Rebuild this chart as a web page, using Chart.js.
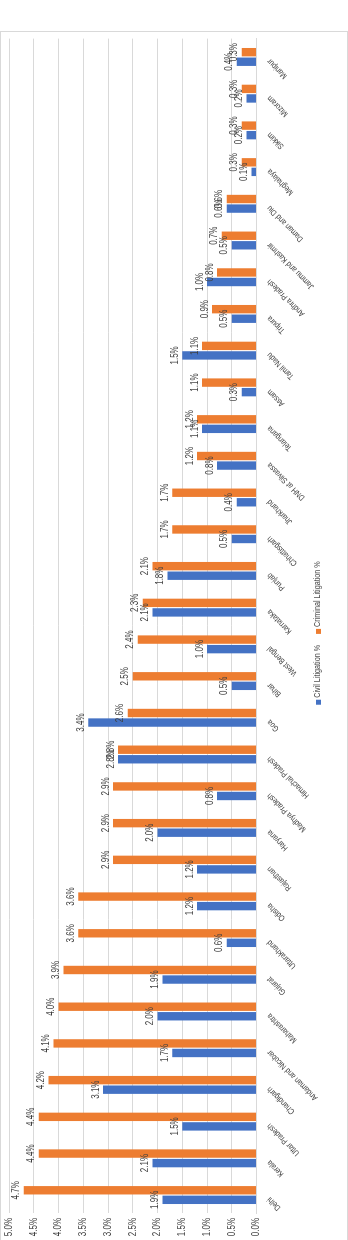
<!DOCTYPE html>
<html>
<head>
<meta charset="utf-8">
<script src="https://cdn.jsdelivr.net/npm/chart.js@4"></script>
<style>
    html, body { margin: 0; padding: 0; background: #fff; overflow: hidden; }
    body { width: 348px; height: 1240px; position: relative; }
    /* chart is laid out landscape, then turned a quarter left */
    #wrap {
        position: absolute; left: 0; top: 1241px;
        width: 1210px; height: 348px;
        box-sizing: border-box; border: 1px solid #d9d9d9;
        transform-origin: 0 0; transform: rotate(-90deg);
        background: #fff;
    }
    #wrap canvas { display: block; }
</style>
</head>
<body>
<div id="wrap"><canvas id="chart-litigation" width="1208" height="346"></canvas></div>
<script>
const states = ['Delhi', 'Kerala', 'Uttar Pradesh', 'Chandigarh', 'Andaman and Nicobar', 'Maharashtra',
    'Gujarat', 'Uttarakhand', 'Odisha', 'Rajasthan', 'Haryana', 'Madhya Pradesh', 'Himachal Pradesh',
    'Goa', 'Bihar', 'West Bengal', 'Karnataka', 'Punjab', 'Chhattisgarh', 'Jharkhand', 'DNH at Silvassa',
    'Telangana', 'Assam', 'Tamil Nadu', 'Tripura', 'Andhra Pradesh', 'Jammu and Kashmir', 'Daman and Diu',
    'Meghalaya', 'Sikkim', 'Mizoram', 'Manipur'];
const civilPct = [1.9, 2.1, 1.5, 3.1, 1.7, 2.0, 1.9, 0.6, 1.2, 1.2, 2.0, 0.8, 2.8, 3.4, 0.5, 1.0,
    2.1, 1.8, 0.5, 0.4, 0.8, 1.1, 0.3, 1.5, 0.5, 1.0, 0.5, 0.6, 0.1, 0.2, 0.2, 0.4];
const criminalPct = [4.7, 4.4, 4.4, 4.2, 4.1, 4.0, 3.9, 3.6, 3.6, 2.9, 2.9, 2.9, 2.8, 2.6, 2.5, 2.4,
    2.3, 2.1, 1.7, 1.7, 1.2, 1.2, 1.1, 1.1, 0.9, 0.8, 0.7, 0.6, 0.3, 0.3, 0.3, 0.3];
const pctTicks = [0, 0.5, 1, 1.5, 2, 2.5, 3, 3.5, 4, 4.5, 5];

const FONT = '"Liberation Sans", Arial, sans-serif';
const NARROW = 0.8;   // squeeze glyphs sideways, no condensed face installed
const INK = '#404040';

function narrowText(ctx, text, x, y, angle, align) {
    ctx.save();
    ctx.translate(x, y);
    ctx.rotate(angle);
    ctx.scale(NARROW, 1);
    ctx.textAlign = align;
    ctx.fillText(text, 0, 0);
    ctx.restore();
}

// axis labels, bar values and legend, all in the narrow face
const textLayer = {
    id: 'textLayer',
    afterDraw(chart) {
        const { ctx, chartArea, scales: { x, y } } = chart;
        ctx.save();
        ctx.fillStyle = INK;

        // value axis
        ctx.font = '10px ' + FONT;
        ctx.textBaseline = 'middle';
        pctTicks.forEach(v => narrowText(ctx, v.toFixed(1) + '%', chartArea.left - 4.6, y.getPixelForValue(v), 0, 'right'));

        // states, slanted
        ctx.font = '8.5px ' + FONT;
        states.forEach((s, i) => narrowText(ctx, s, x.getPixelForTick(i) - 3.2, chartArea.bottom + 12, -Math.PI / 4, 'right'));

        // values on top of the bars
        ctx.font = '10px ' + FONT;
        ctx.textBaseline = 'alphabetic';
        chart.data.datasets.forEach((ds, i) => {
            chart.getDatasetMeta(i).data.forEach((bar, j) => {
                narrowText(ctx, ds.data[j].toFixed(1) + '%', bar.x, bar.y - 4.4, 0, 'center');
            });
        });

        // legend
        ctx.font = '9px ' + FONT;
        ctx.textBaseline = 'middle';
        const items = chart.data.datasets;
        const widths = items.map(ds => 7 + ctx.measureText(ds.label).width * NARROW);
        const total = widths.reduce((a, b) => a + b, 0) + 11 * (items.length - 1);
        let lx = chart.width / 2 - total / 2 + 3;
        const ly = chart.height - 29;
        items.forEach((ds, i) => {
            ctx.fillStyle = ds.backgroundColor;
            ctx.fillRect(lx, ly - 2, 5, 5);
            ctx.fillStyle = INK;
            narrowText(ctx, ds.label, lx + 7, ly, 0, 'left');
            lx += widths[i] + 11;
        });
        ctx.restore();
    }
};

new Chart(document.getElementById('chart-litigation'), {
    type: 'bar',
    data: {
        labels: states,
        datasets: [
            { label: 'Civil Litigation %', data: civilPct, backgroundColor: '#4472C4' },
            { label: 'Criminal Litigation %', data: criminalPct, backgroundColor: '#ED7D31' }
        ]
    },
    options: {
        responsive: false,
        animation: false,
        devicePixelRatio: 1,
        categoryPercentage: 0.52,
        barPercentage: 0.88,
        layout: { padding: { left: 0, right: 6.6, top: 8, bottom: 0 } },
        scales: {
            x: {
                grid: { display: false },
                border: { color: '#d9d9d9' },
                ticks: { display: false },
                afterFit: s => { s.height = 90.5; }
            },
            y: {
                min: 0, max: 5,
                afterBuildTicks: s => { s.ticks = pctTicks.map(v => ({ value: v })); },
                grid: { color: '#d9d9d9', drawTicks: false },
                border: { display: false },
                ticks: { display: false },
                afterFit: s => { s.width = 26.6; }
            }
        },
        plugins: {
            legend: { display: false },
            tooltip: { enabled: false }
        }
    },
    plugins: [textLayer]
});
</script>
</body>
</html>
